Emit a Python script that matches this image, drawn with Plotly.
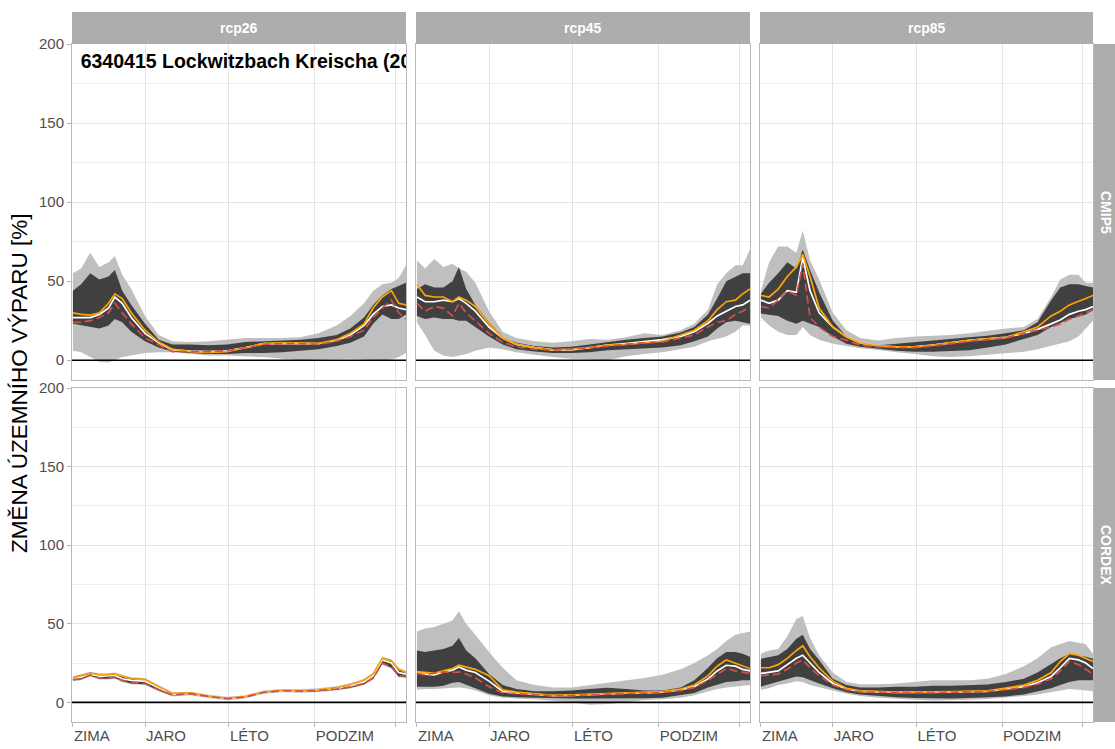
import plotly.graph_objects as go

# ---------------- data ----------------
DAYS = [1, 10, 20, 30, 40, 47, 55, 65, 80, 95, 110, 130, 150, 170, 190, 210, 230, 250, 270, 290, 305, 320, 330, 340, 350, 358, 366]

ROWS = ["CMIP5", "CORDEX"]
COLS = ["rcp26", "rcp45", "rcp85"]

TICK_DAYS = [1, 80, 172, 266, 355]
TICK_TEXT = ["ZIMA", "JARO", "LÉTO", "PODZIM", ""]
Y_TICKS = [0, 50, 100, 150, 200]
Y_MINOR = [25, 75, 125, 175]

TITLE = "6340415 Lockwitzbach Kreischa (2021-2050)"
Y_TITLE = "ZMĚNA ÚZEMNÍHO VÝPARU [%]"

# CMIP5 rcp26
cmip5_rcp26_min = [6, 5, 2, -1, -1.5, 0, 2, 3, 4.5, 5, 5, 4, 3, 3, 2.5, 2, 1, 0, 0.5, 1, 1, 0.5, 0, 0, 0.5, 2, 4.5]
cmip5_rcp26_max = [55, 58, 68, 59, 62, 66, 54, 45, 28, 16, 12, 11.5, 12, 13, 14, 14, 14, 14.5, 17, 22, 28, 36, 44, 48, 49, 52, 60]
cmip5_rcp26_q_lo = [23, 22, 21, 20, 22, 26, 24, 18, 12, 8, 5.5, 4.5, 4, 4, 4.5, 4.5, 5, 6, 7, 9, 11, 15, 23, 29, 26, 26, 29]
cmip5_rcp26_q_hi = [44, 48, 55, 51, 53, 57, 44, 35, 23, 13, 10, 10, 9.5, 10, 11.5, 12, 12.5, 13, 14, 16, 20, 27, 35, 41, 45, 47, 49]
cmip5_rcp26_median = [27, 27, 27, 29, 33, 40, 36, 27, 17, 11, 6.5, 5.7, 5.5, 6, 8, 10.5, 10.5, 10.7, 10.5, 12.5, 16, 22, 29, 34, 35, 33, 32]
cmip5_rcp26_orange = [30, 29, 28.5, 30, 36, 42, 39, 30, 19, 11.5, 7, 5.5, 5, 5.5, 8, 10.5, 11, 11, 10.5, 13, 17, 23, 33, 40, 44, 36, 35]
cmip5_rcp26_red = [24, 24, 25, 27, 30, 36, 30, 23, 14, 9.5, 5.5, 5.5, 5.5, 6, 8, 10, 10.5, 10.5, 10, 12, 15, 19, 27, 33, 38, 30, 26]

# CMIP5 rcp45
cmip5_rcp45_min = [24, 16, 6, 3, 2, 3, 4, 6, 8, 7, 5, 3.5, 2, 1, 0.5, 0, 2.5, 4, 5, 7, 8.5, 12, 13.5, 15, 18, 22, 22]
cmip5_rcp45_max = [63, 58, 64, 59, 61, 58, 56, 49, 31, 18, 14, 12, 11, 12, 13.5, 13, 14.5, 17, 16, 19, 23, 32, 48, 55, 60, 60, 70]
cmip5_rcp45_q_lo = [28, 26, 27, 26, 26, 25, 25, 21, 15, 10, 7, 5.5, 4.5, 4.5, 5, 6.3, 7, 7.6, 8, 9.5, 12, 15, 20, 24, 25, 24, 23]
cmip5_rcp45_q_hi = [45, 48, 46, 46, 50, 59, 45, 35, 24, 14.5, 11, 9, 8, 8.5, 10, 11.5, 13, 14, 15, 17.5, 21, 29, 39, 50, 53, 55, 55]
cmip5_rcp45_median = [40, 37, 37, 38, 37, 39, 36, 31, 21, 14, 10, 8, 6.5, 6.5, 8, 9.5, 10.5, 11.6, 13, 15, 18, 23.4, 28, 31, 34, 35, 38]
cmip5_rcp45_orange = [48, 41, 40, 40, 37, 40, 38, 34, 23, 14, 10, 8, 6.5, 7, 8, 9.5, 10, 11, 12, 16, 19, 25, 32, 37, 38, 42, 45]
cmip5_rcp45_red = [36, 31, 34, 33, 28, 36, 30, 25, 17, 11.5, 8.5, 7, 6.5, 7, 8, 9, 10, 11, 11.5, 14, 16, 21, 24, 25, 29, 31, 34]

# CMIP5 rcp85
cmip5_rcp85_min = [27, 22, 18, 16, 16, 21, 16, 13, 10.5, 9, 7.6, 6.5, 5, 4, 2.5, 2, 2.5, 3.5, 4.5, 5.3, 7, 9, 10.5, 12, 15, 20, 25]
cmip5_rcp85_max = [44, 62, 72, 72, 68, 82, 63, 51, 30, 19, 14, 12.5, 14, 15, 15.5, 16, 17, 18.5, 20, 21, 26, 40, 51, 54, 54, 49, 49]
cmip5_rcp85_q_lo = [29.5, 29, 28, 25, 23, 25, 23, 21, 15, 10.5, 8.5, 7.3, 6, 5.3, 5.3, 5.8, 6.3, 8, 10, 13.5, 16, 21, 23.5, 26, 27.5, 29, 31.6]
cmip5_rcp85_q_hi = [42, 49, 55, 62, 58, 70, 57, 43, 25, 15, 11, 9.5, 10.5, 11.6, 12.5, 13.5, 14.5, 15.5, 17, 19, 24, 38, 46, 48, 48, 47, 46]
cmip5_rcp85_median = [38, 36, 38, 44, 43, 65, 44, 30, 21, 14.8, 11, 9, 8.4, 8.5, 9.5, 11, 12.5, 13.5, 14.5, 17, 19.5, 23, 25.5, 29, 31, 32, 34]
cmip5_rcp85_orange = [41, 40, 45, 53, 59, 67, 53, 33, 21, 14.8, 11, 9, 8.4, 8.5, 9.5, 11, 12.5, 13.5, 14.5, 18, 21, 28, 31, 35, 37, 39, 41]
cmip5_rcp85_red = [34, 33, 38, 44, 41, 61, 27, 21, 15, 12.7, 9.5, 8.4, 8, 8, 9, 10.5, 12, 13, 14, 17, 19, 21, 23, 26, 28, 30, 32]

# CORDEX rcp26
cordex_rcp26_min = [13.5, 14, 16.5, 14.5, 14.5, 15, 13, 11.5, 11, 7, 3.8, 4.5, 2.7, 1.4, 2.4, 5.4, 6.4, 6.1, 6.6, 7.5, 8.8, 11, 14.5, 24, 21.5, 16, 15.5]
cordex_rcp26_max = [16.5, 18, 19.5, 18.5, 18.5, 19, 17.5, 16, 15.5, 11, 6.5, 6.8, 4.8, 3.5, 4.5, 7.5, 8.5, 8.3, 9, 10.3, 12.2, 15, 19, 29, 27.5, 22, 20]
cordex_rcp26_q_lo = [14, 14.7, 17, 15, 15, 15.5, 13.5, 12, 11.5, 7.5, 4.3, 5, 3.2, 1.9, 2.9, 5.9, 6.9, 6.6, 7.1, 8, 9.3, 11.5, 15, 24.5, 22, 16.5, 16]
cordex_rcp26_q_hi = [16, 17.3, 19, 17.8, 18, 18.3, 16.8, 15.3, 14.8, 10.3, 5.8, 6.2, 4.2, 2.9, 3.9, 6.9, 7.9, 7.6, 8.3, 9.6, 11.4, 14.3, 18.3, 28.3, 26.8, 21.3, 19.3]
cordex_rcp26_median = [15, 16, 18, 16.5, 17, 17, 15, 14, 13.5, 9, 5, 5.7, 3.8, 2.5, 3.5, 6.5, 7.5, 7.2, 7.8, 8.8, 10.5, 13, 17, 27, 25, 19, 18]
cordex_rcp26_orange = [15.5, 17, 18.5, 17.5, 17.5, 18, 16.5, 15, 14.5, 10, 5.5, 6, 3.9, 2.6, 3.6, 6.6, 7.6, 7.3, 8, 9.3, 11.2, 14, 18, 28, 26.5, 21, 19]
cordex_rcp26_red = [14.5, 15, 17.5, 15.5, 15.5, 16, 14, 12.5, 12, 8, 4.8, 5.5, 3.7, 2.4, 3.4, 6.4, 7.4, 7.1, 7.6, 8.5, 9.8, 12, 15.5, 25, 22.5, 17, 16.5]

# CORDEX rcp45
cordex_rcp45_min = [8, 8.5, 8.5, 8.8, 9, 9.5, 9, 7.5, 4.5, 3, 2.5, 2, 1, 0, -1.5, -1, 0, 1.5, 2, 3, 4.5, 7, 8.5, 9.5, 10, 10.5, 11]
cordex_rcp45_max = [45, 47, 48, 50, 52, 58, 50, 43, 32, 22, 14, 11, 9.5, 9.5, 11, 12.5, 14, 15.5, 17.5, 21, 25, 30, 34, 39, 43, 44, 45]
cordex_rcp45_q_lo = [10, 10, 10, 10.5, 12.5, 13, 11, 9, 5.5, 3.8, 3.3, 3, 2.6, 2.5, 2.5, 2.5, 2.5, 2.6, 3, 4.5, 6, 9.5, 11.5, 13, 13.5, 14, 14]
cordex_rcp45_q_hi = [33, 32, 33, 34, 36, 41, 33, 28, 18, 11, 8.5, 7, 7, 7.5, 8.5, 9.3, 8.5, 7.5, 7.5, 9.5, 14, 22, 28, 32, 32, 31, 29]
cordex_rcp45_median = [19.4, 18, 17.5, 19.4, 20.5, 22.5, 20.5, 19, 13.5, 7, 6, 5.3, 4.3, 4.5, 5, 5.5, 5.8, 6, 6.5, 8, 10, 15, 20, 23.6, 23, 21, 20]
cordex_rcp45_orange = [19.5, 19, 18.5, 20, 21.5, 23.6, 22.5, 21, 17, 8, 6.5, 5.5, 4.5, 4.8, 5.2, 5.6, 6, 6.2, 6.8, 8.5, 11, 17, 23, 27, 25, 23, 21.5]
cordex_rcp45_red = [18.4, 17.5, 18.5, 19.4, 19, 19.4, 18, 15.5, 10, 6, 5.5, 5, 4.2, 4.3, 4.8, 5.4, 5.6, 5.8, 6.2, 7.5, 9.5, 14, 18, 21.5, 20, 19, 18.4]

# CORDEX rcp85
cordex_rcp85_min = [8, 9, 11, 12, 13.5, 13, 11, 9.5, 7.5, 5.5, 4, 3, 2.2, 1.6, 1.2, 1.2, 1.6, 2.2, 3, 4, 5, 6.5, 7.5, 8.5, 8, 7.5, 7]
cordex_rcp85_max = [31, 33, 34, 42, 53, 55, 41, 30, 19, 13, 11.5, 11.5, 12, 13, 14, 14, 14, 15, 18, 23, 28, 35, 37, 39, 38, 37, 31]
cordex_rcp85_q_lo = [10, 11.5, 13, 14.5, 16.5, 16, 14, 12, 9, 6.5, 5, 4, 3.3, 2.8, 2.5, 2.5, 2.8, 3.2, 3.8, 5, 7, 9, 11, 13, 14, 14, 14]
cordex_rcp85_q_hi = [27.8, 29, 30, 34, 40.5, 43, 34, 27, 15, 11, 9.5, 9.5, 10, 10, 10.5, 10.5, 11, 11.4, 13, 15, 19, 24.7, 28, 31, 30, 29, 27.8]
cordex_rcp85_median = [18.4, 19, 20, 24, 28, 30, 25, 19, 12, 8.5, 7, 6.5, 6.3, 6.3, 6.3, 6.5, 6.8, 7, 8.5, 10, 12.5, 16.5, 22, 28, 27, 25, 21.5]
cordex_rcp85_orange = [22, 22, 24, 28, 33, 36, 29, 22, 13.5, 9, 7.3, 6.7, 6.5, 6.5, 6.5, 6.8, 7, 7.3, 9, 11, 14, 19, 26, 31, 30, 28, 26]
cordex_rcp85_red = [17, 17.5, 18, 21, 25, 27, 22, 17, 11, 8, 6.7, 6.3, 6.1, 6.1, 6.2, 6.3, 6.6, 6.8, 8, 9.5, 11.5, 15, 20, 26, 24, 21, 18]

PANELS = {
    ("CMIP5", "rcp26"): (cmip5_rcp26_min, cmip5_rcp26_max, cmip5_rcp26_q_lo, cmip5_rcp26_q_hi, cmip5_rcp26_median, cmip5_rcp26_orange, cmip5_rcp26_red),
    ("CMIP5", "rcp45"): (cmip5_rcp45_min, cmip5_rcp45_max, cmip5_rcp45_q_lo, cmip5_rcp45_q_hi, cmip5_rcp45_median, cmip5_rcp45_orange, cmip5_rcp45_red),
    ("CMIP5", "rcp85"): (cmip5_rcp85_min, cmip5_rcp85_max, cmip5_rcp85_q_lo, cmip5_rcp85_q_hi, cmip5_rcp85_median, cmip5_rcp85_orange, cmip5_rcp85_red),
    ("CORDEX", "rcp26"): (cordex_rcp26_min, cordex_rcp26_max, cordex_rcp26_q_lo, cordex_rcp26_q_hi, cordex_rcp26_median, cordex_rcp26_orange, cordex_rcp26_red),
    ("CORDEX", "rcp45"): (cordex_rcp45_min, cordex_rcp45_max, cordex_rcp45_q_lo, cordex_rcp45_q_hi, cordex_rcp45_median, cordex_rcp45_orange, cordex_rcp45_red),
    ("CORDEX", "rcp85"): (cordex_rcp85_min, cordex_rcp85_max, cordex_rcp85_q_lo, cordex_rcp85_q_hi, cordex_rcp85_median, cordex_rcp85_orange, cordex_rcp85_red),
}

# ---------------- styling / layout ----------------
W, H = 1115, 749
OFF = 0  # page body margin is removed by the post script below
FONT = "Liberation Sans, Arial, sans-serif"
COL_PX = [(72, 406), (416, 750), (760, 1093)]   # screen pixels in reference
ROW_PX = [(44, 380), (388, 722)]
STRIP_TOP = 12
STRIP_RIGHT_X0 = 1094
LIGHT = "rgb(191,191,191)"
DARK = "rgb(64,64,64)"
STRIP = "#ADADAD"
GRID = "#E4E4E4"
BORDER = "#B8B8B8"


def fx(p):
    return (p - OFF) / W


def fy(p):
    return 1 - (p - OFF) / H


fig = go.Figure()
layout = dict(
    width=W, height=H, margin=dict(l=0, r=0, t=0, b=0, autoexpand=False),
    paper_bgcolor="white", plot_bgcolor="white", showlegend=False,
    font=dict(family=FONT),
)
shapes = []
annotations = []

for r, rowname in enumerate(ROWS):
    for c, colname in enumerate(COLS):
        k = r * 3 + c + 1
        sx = "" if k == 1 else str(k)
        xref, yref = "x" + sx, "y" + sx
        lo, hi, qlo, qhi, med, ora, red = PANELS[(rowname, colname)]

        common = dict(x=DAYS, xaxis=xref, yaxis=yref, hoverinfo="skip", showlegend=False)
        fig.add_trace(go.Scatter(y=lo, mode="lines", line=dict(width=0, color=LIGHT), **common))
        fig.add_trace(go.Scatter(y=hi, mode="lines", line=dict(width=0, color=LIGHT),
                                 fill="tonexty", fillcolor=LIGHT, **common))
        fig.add_trace(go.Scatter(y=qlo, mode="lines", line=dict(width=0, color=DARK), **common))
        fig.add_trace(go.Scatter(y=qhi, mode="lines", line=dict(width=0, color=DARK),
                                 fill="tonexty", fillcolor=DARK, **common))
        fig.add_trace(go.Scatter(y=med, mode="lines", line=dict(width=1.7, color="white"), **common))
        fig.add_trace(go.Scatter(y=ora, mode="lines", line=dict(width=1.7, color="#FFA500"), **common))
        fig.add_trace(go.Scatter(y=red, mode="lines", line=dict(width=1.7, color="#D4504C", dash="8px,4px"), **common))

        x0p, x1p = COL_PX[c]
        y0p, y1p = ROW_PX[r]
        bottom = (r == len(ROWS) - 1)
        left = (c == 0)
        layout["xaxis" + sx] = dict(
            domain=[fx(x0p), fx(x1p)], anchor=yref, range=[0, 366],
            tickmode="array", tickvals=TICK_DAYS, ticktext=TICK_TEXT,
            showgrid=True, gridcolor=GRID, gridwidth=1, zeroline=False,
            showline=True, mirror=True, linecolor=BORDER, linewidth=1,
            ticks="outside" if bottom else "", ticklen=4, tickcolor=BORDER,
            showticklabels=bottom, ticklabelposition="outside right",
            tickfont=dict(size=15, color="#4D4D4D", family=FONT),
            fixedrange=True, automargin=False,
        )
        layout["yaxis" + sx] = dict(
            domain=[fy(y1p), fy(y0p)], anchor=xref, range=[-12.5, 200],
            tickmode="array", tickvals=Y_TICKS,
            minor=dict(tickvals=Y_MINOR, showgrid=True, gridcolor="#EEEEEE", gridwidth=1, ticks=""),
            showgrid=True, gridcolor=GRID, gridwidth=1, zeroline=False,
            showline=True, mirror=True, linecolor=BORDER, linewidth=1,
            ticks="outside" if left else "", ticklen=4, tickcolor=BORDER,
            showticklabels=left,
            tickfont=dict(size=15, color="#4D4D4D", family=FONT),
            fixedrange=True, automargin=False,
        )
        # zero reference line
        shapes.append(dict(type="line", xref=xref + " domain", yref=yref, x0=0, x1=1, y0=0, y1=0,
                           line=dict(color="black", width=1.6), layer="above"))

# title inside first panel, clipped at the panel edge
fig.add_trace(go.Scatter(x=[9.5], y=[188], mode="text", text=[TITLE], textposition="middle right",
                         textfont=dict(size=19.5, color="black", family=FONT, weight="bold"),
                         cliponaxis=True, xaxis="x", yaxis="y", hoverinfo="skip", showlegend=False))

# top strips
for c, colname in enumerate(COLS):
    x0p, x1p = COL_PX[c]
    shapes.append(dict(type="rect", xref="paper", yref="paper", x0=fx(x0p), x1=fx(x1p),
                       y0=fy(ROW_PX[0][0]), y1=fy(STRIP_TOP), fillcolor=STRIP, line=dict(width=0)))
    annotations.append(dict(text="<b>%s</b>" % colname, xref="paper", yref="paper",
                            x=fx((x0p + x1p) / 2), y=fy((STRIP_TOP + ROW_PX[0][0]) / 2),
                            showarrow=False, font=dict(size=14, color="white", family=FONT),
                            xanchor="center", yanchor="middle"))
# right strips
for r, rowname in enumerate(ROWS):
    y0p, y1p = ROW_PX[r]
    shapes.append(dict(type="rect", xref="paper", yref="paper", x0=fx(STRIP_RIGHT_X0), x1=1.05,
                       y0=fy(y1p), y1=fy(y0p), fillcolor=STRIP, line=dict(width=0)))
    annotations.append(dict(text="<b>%s</b>" % rowname, xref="paper", yref="paper",
                            x=fx(1106), y=fy((y0p + y1p) / 2), textangle=90,
                            showarrow=False, font=dict(size=14, color="white", family=FONT),
                            xanchor="center", yanchor="middle"))

# y axis title
annotations.append(dict(text=Y_TITLE, xref="paper", yref="paper", x=fx(19), y=fy(383),
                        textangle=-90, showarrow=False, xanchor="center", yanchor="middle",
                        font=dict(size=22.5, color="black", family=FONT)))

layout["shapes"] = shapes
layout["annotations"] = annotations
fig.update_layout(**layout)
fig.write_html("out.html", config={"displayModeBar": False, "staticPlot": True},
               post_script="document.body.style.margin='0';document.body.style.overflow='hidden';")
